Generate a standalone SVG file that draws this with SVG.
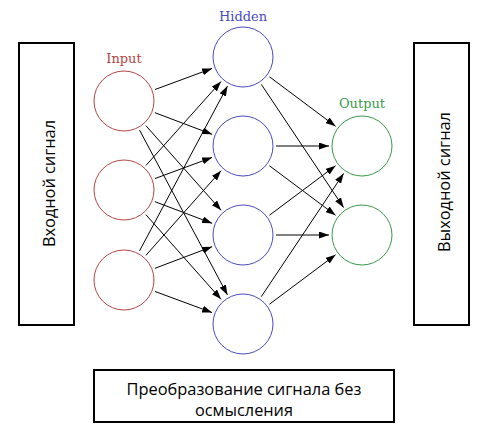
<svg xmlns="http://www.w3.org/2000/svg" width="500" height="441" viewBox="0 0 500 441">
<defs>
<marker id="arr" markerUnits="userSpaceOnUse" markerWidth="11" markerHeight="7" refX="10" refY="3.5" orient="auto">
<path d="M0,0 L10,3.5 L0,7 z" fill="#000"/>
</marker>
<style>
.box{fill:#fff;stroke:#000;stroke-width:2}
.bt{font-family:"Open Sans","Liberation Sans",sans-serif;font-size:16px;fill:#000;text-anchor:middle}
.lbl{font-family:"DejaVu Serif","Liberation Serif",serif;font-size:13px;text-anchor:middle}
.in{fill:none;stroke:#b54545;stroke-width:1}
.hid{fill:none;stroke:#4a4ac0;stroke-width:1}
.out{fill:none;stroke:#3a9a4a;stroke-width:1}
.c line{stroke:#000;stroke-width:1;marker-end:url(#arr)}
</style>
</defs>
<rect width="500" height="441" fill="#fff"/>
<g id="box-in"><rect class="box" x="19" y="43" width="55" height="282"/><text class="bt" transform="translate(54.5,183.5) rotate(-90)" textLength="127" lengthAdjust="spacingAndGlyphs">Входной сигнал</text></g>
<g id="box-out"><rect class="box" x="414" y="43" width="55" height="282"/><text class="bt" transform="translate(449.5,182) rotate(-90)" textLength="140" lengthAdjust="spacingAndGlyphs">Выходной сигнал</text></g>
<g id="box-bottom"><rect class="box" x="94" y="370" width="300" height="52"/><text class="bt" x="244" y="395" textLength="235" lengthAdjust="spacingAndGlyphs">Преобразование сигнала без</text><text class="bt" x="244" y="416" textLength="98" lengthAdjust="spacingAndGlyphs">осмысления</text></g>
<g id="labels">
<text class="lbl" x="124" y="63" fill="#b54545">Input</text>
<text class="lbl" x="243" y="21" fill="#4a4ac0">Hidden</text>
<text class="lbl" x="362" y="108" fill="#3a9a4a">Output</text>
</g>
<g id="i1"><circle class="in" cx="124" cy="101" r="30"/></g>
<g id="i2"><circle class="in" cx="124" cy="190" r="30"/></g>
<g id="i3"><circle class="in" cx="124" cy="280" r="30"/></g>
<g id="h1"><circle class="hid" cx="243" cy="57" r="30"/></g>
<g id="h2"><circle class="hid" cx="243" cy="146" r="30"/></g>
<g id="h3"><circle class="hid" cx="243" cy="235" r="30"/></g>
<g id="h4"><circle class="hid" cx="243" cy="324" r="30"/></g>
<g id="o1"><circle class="out" cx="362" cy="146" r="30"/></g>
<g id="o2"><circle class="out" cx="362" cy="235" r="30"/></g>
<g id="connectors" class="c">
<line x1="154.95" y1="89.56" x2="212.05" y2="68.44"/>
<line x1="154.87" y1="112.67" x2="212.13" y2="134.33"/>
<line x1="145.91" y1="125.67" x2="221.09" y2="210.33"/>
<line x1="139.54" y1="130.11" x2="227.46" y2="294.89"/>
<line x1="146" y1="165.41" x2="221" y2="81.59"/>
<line x1="154.95" y1="178.56" x2="212.05" y2="157.44"/>
<line x1="154.87" y1="201.67" x2="212.13" y2="223.33"/>
<line x1="145.91" y1="214.67" x2="221.09" y2="299.33"/>
<line x1="139.54" y1="250.89" x2="227.46" y2="86.11"/>
<line x1="145.91" y1="255.33" x2="221.09" y2="170.67"/>
<line x1="154.87" y1="268.33" x2="212.13" y2="246.67"/>
<line x1="154.95" y1="291.44" x2="212.05" y2="312.56"/>
<line x1="269.43" y1="76.76" x2="335.57" y2="126.24"/>
<line x1="261.34" y1="84.43" x2="343.66" y2="207.57"/>
<line x1="276" y1="146" x2="329" y2="146"/>
<line x1="269.43" y1="165.76" x2="335.57" y2="215.24"/>
<line x1="269.43" y1="215.24" x2="335.57" y2="165.76"/>
<line x1="276" y1="235" x2="329" y2="235"/>
<line x1="261.34" y1="296.57" x2="343.66" y2="173.43"/>
<line x1="269.43" y1="304.24" x2="335.57" y2="254.76"/>
</g>
</svg>
